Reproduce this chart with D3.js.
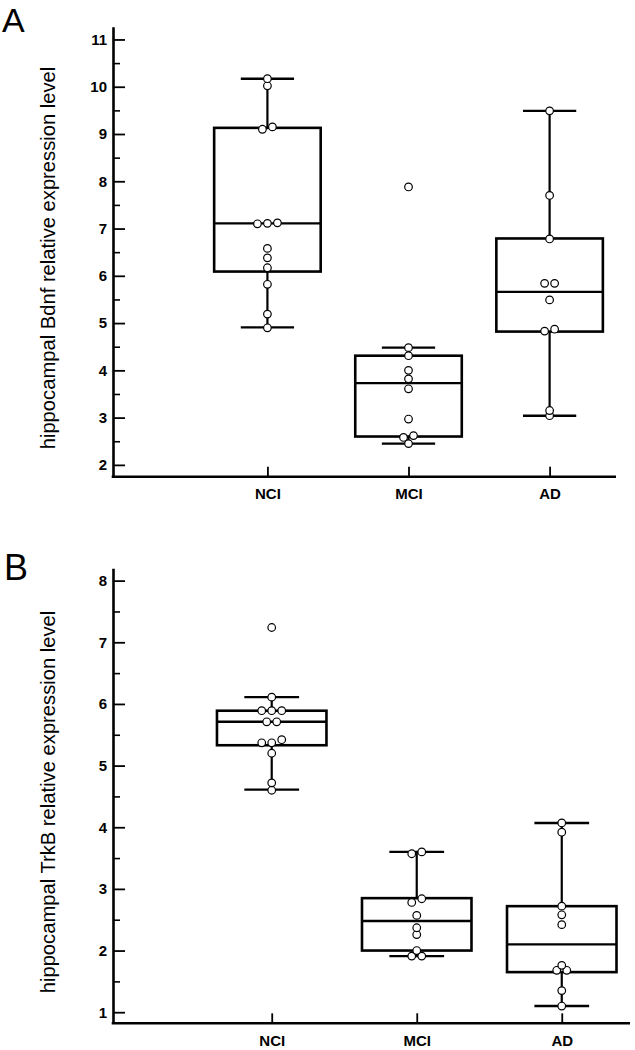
<!DOCTYPE html>
<html>
<head>
<meta charset="utf-8">
<script src="https://cdn.jsdelivr.net/npm/d3@7"></script>
<style>
  html, body { margin: 0; padding: 0; background: #fff; }
  svg { display: block; }
  text { font-family: "Liberation Sans", Arial, sans-serif; fill: #000; }
</style>
</head>
<body>
<svg id="chart" width="635" height="1050"></svg>
<script>
// ---------------- DATA ----------------
const categories = ["NCI", "MCI", "AD"];

// Panel A: hippocampal Bdnf
const bdnfNCI = [10.17, 10.02, 9.15, 9.10, 7.12, 7.11, 7.10, 6.58, 6.38, 6.17, 5.82, 5.19, 4.90];
const bdnfMCI = [7.88, 4.48, 4.31, 4.00, 3.82, 3.61, 2.97, 2.62, 2.58, 2.45];
const bdnfAD  = [9.49, 7.70, 6.78, 5.84, 5.84, 5.49, 4.87, 4.83, 3.15, 3.04];
// box statistics: [whiskerLow, Q1, median, Q3, whiskerHigh]
const bdnfBoxNCI = [4.91, 6.09, 7.11, 9.13, 10.17];
const bdnfBoxMCI = [2.45, 2.60, 3.73, 4.31, 4.48];
const bdnfBoxAD  = [3.04, 4.82, 5.66, 6.79, 9.49];
const bdnfTicks = [2, 3, 4, 5, 6, 7, 8, 9, 10, 11];

// Panel B: hippocampal TrkB
const trkbNCI = [7.24, 6.11, 5.89, 5.89, 5.89, 5.71, 5.71, 5.42, 5.37, 5.37, 5.20, 4.72, 4.60];
const trkbMCI = [3.60, 3.57, 2.84, 2.78, 2.57, 2.37, 2.26, 2.00, 1.91, 1.91];
const trkbAD  = [4.07, 3.92, 2.72, 2.58, 2.42, 1.76, 1.68, 1.68, 1.35, 1.10];
const trkbBoxNCI = [4.61, 5.33, 5.71, 5.89, 6.11];
const trkbBoxMCI = [1.91, 2.00, 2.48, 2.85, 3.60];
const trkbBoxAD  = [1.10, 1.65, 2.10, 2.72, 4.07];
const trkbTicks = [1, 2, 3, 4, 5, 6, 7, 8];

// ---------------- DRAW ----------------
const svg = d3.select("#chart");
const FONT = '"Liberation Sans", Arial, sans-serif';

function panel(cfg) {
  const g = svg.append("g");
  const y = d3.scaleLinear().domain(cfg.yDomain).range([cfg.bottom, cfg.top]);
  const W = cfg.right - cfg.left;
  const x = d3.scalePoint().domain(categories)
    .range([cfg.left + 0.307 * W, cfg.left + 0.868 * W]);
  const step = x.step();
  const boxW = 0.755 * step;

  // minor ticks (half steps)
  const minor = cfg.ticks.slice(0, -1).map(t => t + 0.5);
  const minorAxis = d3.axisLeft(y).tickValues(minor).tickSize(-7).tickFormat("").tickSizeOuter(0);
  g.append("g").attr("transform", `translate(${cfg.left},0)`).call(minorAxis)
    .call(s => s.select(".domain").remove())
    .call(s => s.selectAll(".tick line").attr("stroke", "#000").attr("stroke-width", 1.6));

  // major ticks
  const yAxis = d3.axisLeft(y).tickValues(cfg.ticks).tickSize(-12).tickPadding(6).tickSizeOuter(0).tickFormat(d3.format("d"));
  g.append("g").attr("transform", `translate(${cfg.left},0)`).call(yAxis)
    .call(s => s.select(".domain").attr("stroke", "#000").attr("stroke-width", 2.6))
    .call(s => s.selectAll(".tick line").attr("stroke", "#000").attr("stroke-width", 1.8))
    .call(s => s.selectAll(".tick text").attr("font-family", FONT).attr("font-size", 15)
      .attr("font-weight", "bold").attr("fill", "#000"));

  // x axis
  const xAxis = d3.axisBottom(x).tickSize(-10).tickPadding(9).tickSizeOuter(0);
  const xg = g.append("g").attr("transform", `translate(0,${cfg.bottom})`).call(xAxis);
  xg.select(".domain").attr("d", `M${cfg.left - 1.3},0H${cfg.right}`)
    .attr("stroke", "#000").attr("stroke-width", 2.6);
  xg.selectAll(".tick line").attr("stroke", "#000").attr("stroke-width", 1.8);
  xg.selectAll(".tick text").attr("font-family", FONT).attr("font-size", 15)
    .attr("font-weight", "bold").attr("fill", "#000").attr("dy", "0.9em");

  // y title
  g.append("text")
    .attr("transform", `translate(${cfg.titleX},${(cfg.top + cfg.bottom) / 2 + cfg.titleDy}) rotate(-90)`)
    .attr("text-anchor", "middle")
    .attr("font-size", 20.2)
    .text(cfg.title);

  // panel letter
  g.append("text").attr("x", cfg.letterX).attr("y", cfg.letterY)
    .attr("font-size", cfg.letterSize).text(cfg.letter);

  // boxes
  categories.forEach((c, i) => {
    const b = cfg.boxes[i];
    const cx = x(c);
    const bg = g.append("g");
    bg.append("line").attr("x1", cx).attr("x2", cx).attr("y1", y(b[3])).attr("y2", y(b[4]))
      .attr("stroke", "#000").attr("stroke-width", 2.2);
    bg.append("line").attr("x1", cx).attr("x2", cx).attr("y1", y(b[1])).attr("y2", y(b[0]))
      .attr("stroke", "#000").attr("stroke-width", 2.2);
    [b[0], b[4]].forEach(v => {
      bg.append("line").attr("x1", cx - boxW / 4).attr("x2", cx + boxW / 4)
        .attr("y1", y(v)).attr("y2", y(v)).attr("stroke", "#000").attr("stroke-width", 2.4);
    });
    bg.append("rect").attr("x", cx - boxW / 2).attr("width", boxW)
      .attr("y", y(b[3])).attr("height", y(b[1]) - y(b[3]))
      .attr("fill", "none").attr("stroke", "#000").attr("stroke-width", 2.6);
    bg.append("line").attr("x1", cx - boxW / 2).attr("x2", cx + boxW / 2)
      .attr("y1", y(b[2])).attr("y2", y(b[2])).attr("stroke", "#000").attr("stroke-width", 2.4);
  });

  // points: group into rows of near-equal pixel height, spread symmetrically
  const SP = 10, TH = 4.5;
  categories.forEach((c, i) => {
    const vals = cfg.points[i].slice().sort((a, b) => a - b);
    const rows = [];
    let cur = [];
    vals.forEach(v => {
      if (cur.length && Math.abs(y(v) - y(cur[cur.length - 1])) > TH) { rows.push(cur); cur = []; }
      cur.push(v);
    });
    if (cur.length) rows.push(cur);
    const pts = [];
    rows.forEach(r => r.forEach((v, k) => pts.push({ v, dx: (k - (r.length - 1) / 2) * SP })));
    g.append("g").selectAll("circle").data(pts).join("circle")
      .attr("cx", d => x(c) + d.dx)
      .attr("cy", d => y(d.v))
      .attr("r", 3.8)
      .attr("fill", "#fff").attr("stroke", "#000").attr("stroke-width", 1.2);
  });
}

panel({
  letter: "A", letterX: 2, letterY: 32, letterSize: 34,
  title: "hippocampal Bdnf relative expression level", titleX: 55, titleDy: 6.3,
  left: 113, right: 616, top: 26.7, bottom: 476.7,
  yDomain: [1.75, 11.27], ticks: bdnfTicks,
  points: [bdnfNCI, bdnfMCI, bdnfAD],
  boxes: [bdnfBoxNCI, bdnfBoxMCI, bdnfBoxAD]
});

panel({
  letter: "B", letterX: 4, letterY: 580, letterSize: 36,
  title: "hippocampal TrkB relative expression level", titleX: 55, titleDy: 6.2,
  left: 113, right: 630, top: 568.3, bottom: 1023.3,
  yDomain: [0.82, 8.2], ticks: trkbTicks,
  points: [trkbNCI, trkbMCI, trkbAD],
  boxes: [trkbBoxNCI, trkbBoxMCI, trkbBoxAD]
});
</script>
</body>
</html>
